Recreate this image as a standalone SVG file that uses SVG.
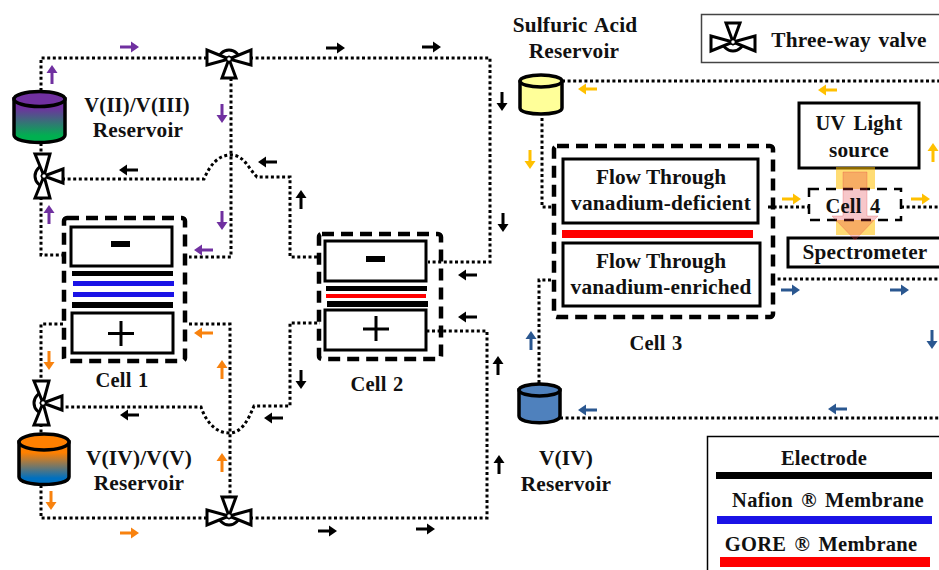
<svg xmlns="http://www.w3.org/2000/svg" width="939" height="570" viewBox="0 0 939 570">
<style>
text{font-family:"Liberation Serif","Times New Roman",serif;font-weight:bold;font-size:21.3px;fill:#111;text-anchor:middle;letter-spacing:.2px;word-spacing:2px}
text.ft{letter-spacing:0;word-spacing:0}
text.lg{font-size:20.5px;letter-spacing:.25px;word-spacing:3px}
.box{fill:#fff;stroke:#000;stroke-width:3}
.dash{fill:none;stroke:#000;stroke-width:4.5;stroke-dasharray:12 7}
.dot{fill:none;stroke:#000;stroke-width:3;stroke-dasharray:3 2.6}
.res{stroke:#000;stroke-width:3.5}
.v{fill:#fff;stroke:#000;stroke-width:3;stroke-linejoin:miter}
.pu{fill:#7030A0}.bk{fill:#000}.or{fill:#F8820E}.go{fill:#FFC000}.bl{fill:#2A5790}
.sign{stroke:#000;stroke-width:3}
</style>
<defs>
<path id="a" d="M-19,-1.500H-8V-5.500L0,0L-8,5.500V1.500H-19Z"/>
<g id="valve">
<path class="v" d="M-11,3A11,11 0 1 1 11,3"/>
<path class="v" d="M0,1L-22,-8V7Z"/>
<path class="v" d="M0,1L22,-8V7Z"/>
<path class="v" d="M0,1L-7,20H7Z"/>
<circle cx="0" cy="1" r="2.500" fill="#fff" stroke="#000" stroke-width="1.500"/>
</g>
<linearGradient id="g1" x1="0" y1="0" x2="0" y2="1"><stop offset=".2" stop-color="#7030A0"/><stop offset=".85" stop-color="#00B050"/></linearGradient>
<linearGradient id="g2" x1="0" y1="0" x2="0" y2="1"><stop offset=".25" stop-color="#FF8000"/><stop offset=".85" stop-color="#0070C0"/></linearGradient>
</defs>

<g id="connectors">
<path class="dot" d="M41,91V58H207"/>
<path class="dot" d="M250,58H490V262H428"/>
<path class="dot" d="M231,78V257H189"/>
<path class="dot" d="M62,179H204C210,165 218,155 231,155C244,155 248,168 257,177H290V257H320"/>
<path class="dot" d="M41,143V155"/>
<path class="dot" d="M41,197V255H63"/>
<path class="dot" d="M63,324H41V382"/>
<path class="dot" d="M60,407H201C206,422 216,433 229,433C242,433 248,420 254,406H290V323H320"/>
<path class="dot" d="M41,424V434"/>
<path class="dot" d="M41,485V518H207"/>
<path class="dot" d="M250,518H487V331H427"/>
<path class="dot" d="M189,324H230V497"/>
<path class="dot" d="M562,81H939"/>
<path class="dot" d="M542,118V207H553"/>
<path class="dot" d="M768,207H808"/>
<path class="dot" d="M901,207H939"/>
<path class="dot" d="M772,279H939"/>
<path class="dot" d="M539,383V280H553"/>
<path class="dot" d="M560,418H939"/>
</g>

<g id="flow-arrows">
<use href="#a" class="pu" transform="translate(139,47)"/>
<use href="#a" class="pu" transform="translate(52,65) rotate(-90)"/>
<use href="#a" class="pu" transform="translate(222,123) rotate(90)"/>
<use href="#a" class="pu" transform="translate(222,230) rotate(90)"/>
<use href="#a" class="pu" transform="translate(194,250) rotate(180)"/>
<use href="#a" class="pu" transform="translate(49,205) rotate(-90)"/>
<use href="#a" class="bk" transform="translate(119,170) rotate(180)"/>
<use href="#a" class="bk" transform="translate(258,162) rotate(180)"/>
<use href="#a" class="bk" transform="translate(301,190) rotate(-90)"/>
<use href="#a" class="bk" transform="translate(345,48)"/>
<use href="#a" class="bk" transform="translate(441,47)"/>
<use href="#a" class="bk" transform="translate(502,111) rotate(90)"/>
<use href="#a" class="bk" transform="translate(503,232) rotate(90)"/>
<use href="#a" class="bk" transform="translate(458,275) rotate(180)"/>
<use href="#a" class="bk" transform="translate(458,317) rotate(180)"/>
<use href="#a" class="bk" transform="translate(498,356) rotate(-90)"/>
<use href="#a" class="bk" transform="translate(499,455) rotate(-90)"/>
<use href="#a" class="bk" transform="translate(301,389) rotate(90)"/>
<use href="#a" class="bk" transform="translate(337,531)"/>
<use href="#a" class="bk" transform="translate(435,529)"/>
<use href="#a" class="bk" transform="translate(120,415) rotate(180)"/>
<use href="#a" class="bk" transform="translate(264,418) rotate(180)"/>
<use href="#a" class="or" transform="translate(194,333) rotate(180)"/>
<use href="#a" class="or" transform="translate(49,370) rotate(90)"/>
<use href="#a" class="or" transform="translate(222,360) rotate(-90)"/>
<use href="#a" class="or" transform="translate(222,453) rotate(-90)"/>
<use href="#a" class="or" transform="translate(51,510) rotate(90)"/>
<use href="#a" class="or" transform="translate(139,533)"/>
<use href="#a" class="go" transform="translate(578,89) rotate(180)"/>
<use href="#a" class="go" transform="translate(818,90) rotate(180)"/>
<use href="#a" class="go" transform="translate(530,169) rotate(90)"/>
<use href="#a" class="go" transform="translate(933,143) rotate(-90)"/>
<use href="#a" class="go" transform="translate(801,199)"/>
<use href="#a" class="go" transform="translate(930,199)"/>
<use href="#a" class="bl" transform="translate(800,290)"/>
<use href="#a" class="bl" transform="translate(909,290)"/>
<use href="#a" class="bl" transform="translate(932,349) rotate(90)"/>
<use href="#a" class="bl" transform="translate(531,331) rotate(-90)"/>
<use href="#a" class="bl" transform="translate(578,410) rotate(180)"/>
<use href="#a" class="bl" transform="translate(828,409) rotate(180)"/>
</g>

<g id="valve-top"><use href="#valve" transform="translate(229,58)"/></g>
<g id="valve-left-upper"><use href="#valve" transform="translate(43,176) rotate(-90)"/></g>
<g id="valve-left-lower"><use href="#valve" transform="translate(42,403) rotate(-90)"/></g>
<g id="valve-bottom"><use href="#valve" transform="translate(229,517) rotate(180)"/></g>

<g id="reservoir-v23">
<path class="res" fill="url(#g1)" d="M14,99V135C14,145 65,145 65,135V99Z"/>
<ellipse class="res" fill="#7030A0" cx="39.500" cy="99" rx="25.500" ry="7.500"/>
<text class="lg" x="137" y="112">V(II)/V(III)</text>
<text x="138" y="137">Reservoir</text>
</g>
<g id="reservoir-v45">
<path class="res" fill="url(#g2)" d="M19,442V477C19,487 69,487 69,477V442Z"/>
<ellipse class="res" fill="#FF8000" cx="44" cy="442" rx="25" ry="8"/>
<text x="139" y="465">V(IV)/V(V)</text>
<text x="139" y="490">Reservoir</text>
</g>
<g id="reservoir-acid">
<path class="res" fill="#FFFF99" d="M520,82V108C520,116 562,116 562,108V82Z"/>
<ellipse class="res" fill="#FFFF99" cx="541" cy="81" rx="21" ry="6"/>
<text x="575" y="32">Sulfuric Acid</text>
<text x="574" y="58">Reservoir</text>
</g>
<g id="reservoir-v4">
<path class="res" fill="#4F81BD" d="M519,390V416C519,425 560,425 560,416V390Z"/>
<ellipse class="res" fill="#4F81BD" cx="539.500" cy="390" rx="20.500" ry="6"/>
<text x="566" y="465">V(IV)</text>
<text x="566" y="491">Reservoir</text>
</g>

<g id="cell-1">
<rect class="dash" x="64" y="218" width="121" height="143" rx="3"/>
<rect class="box" x="71" y="227" width="101" height="39"/>
<rect x="111" y="241" width="19" height="6"/>
<rect x="72" y="271" width="101" height="5"/>
<rect x="73" y="281" width="101" height="5" fill="#1A12E6"/>
<rect x="73" y="292" width="101" height="5" fill="#1A12E6"/>
<rect x="72" y="302" width="101" height="6"/>
<rect class="box" x="72" y="313" width="101" height="40"/>
<path class="sign" d="M108,333.500H134M121,321V346"/>
<text class="lg" x="122" y="387" style="word-spacing:1px">Cell 1</text>
</g>
<g id="cell-2">
<rect class="dash" x="319" y="234" width="122" height="125" rx="3"/>
<rect class="box" x="325" y="241" width="101" height="40"/>
<rect x="366" y="256" width="19" height="6"/>
<rect x="326" y="286" width="101" height="5"/>
<rect x="326" y="294" width="100" height="4" fill="#F00"/>
<rect x="327" y="301" width="101" height="6"/>
<rect class="box" x="325" y="310" width="101" height="40"/>
<path class="sign" d="M363,329H389M376,316V341"/>
<text class="lg" x="377" y="391" style="word-spacing:1px">Cell 2</text>
</g>
<g id="cell-3">
<rect class="dash" x="554" y="146" width="219" height="171" rx="3"/>
<rect class="box" x="563" y="159" width="195" height="64"/>
<rect x="562" y="230" width="191" height="8" fill="#F00"/>
<rect class="box" x="563" y="243" width="197" height="63"/>
<text class="ft" x="661" y="184">Flow Through</text>
<text x="661" y="210">vanadium-deficient</text>
<text class="ft" x="661" y="268">Flow Through</text>
<text x="661" y="294">vanadium-enriched</text>
<text class="lg" x="656" y="350" style="word-spacing:1px">Cell 3</text>
</g>

<g id="uv-source">
<rect class="box" x="799" y="103" width="120" height="65"/>
<text class="lg" x="859" y="130">UV Light</text>
<text x="859" y="157">source</text>
</g>
<g id="spectrometer">
<rect class="box" x="788" y="238" width="160" height="29"/>
<text x="865" y="259">Spectrometer</text>
</g>
<g id="cell-4">
<rect x="836" y="167" width="39" height="68" fill="#FFC000" fill-opacity=".55"/>
<rect x="809" y="189" width="92" height="31" fill="#fff" stroke="#000" stroke-width="2.500" stroke-dasharray="10 7"/>
<path d="M843,172H867V216H878L855,240L832,216H843Z" fill="#E0303A" fill-opacity=".27" stroke="#E0303A" stroke-opacity=".25"/>
<text class="lg" x="853" y="213">Cell 4</text>
</g>

<g id="legend-valve">
<rect x="701.500" y="14.500" width="250" height="48" fill="none" stroke="#444" stroke-width="1.500"/>
<use href="#valve" transform="translate(733,43) rotate(180)"/>
<text x="849" y="47">Three-way valve</text>
</g>
<g id="legend-materials">
<rect x="707.500" y="436.500" width="250" height="150" fill="none" stroke="#000" stroke-width="1.500"/>
<text class="lg" x="824" y="465">Electrode</text>
<rect x="716" y="472" width="216" height="7"/>
<text class="lg" x="828" y="507">Nafion ® Membrane</text>
<rect x="717" y="516" width="215" height="8" fill="#1A12E6"/>
<text class="lg" x="821" y="551">GORE ® Membrane</text>
<rect x="720" y="557" width="210" height="10" fill="#F00"/>
</g>
</svg>
